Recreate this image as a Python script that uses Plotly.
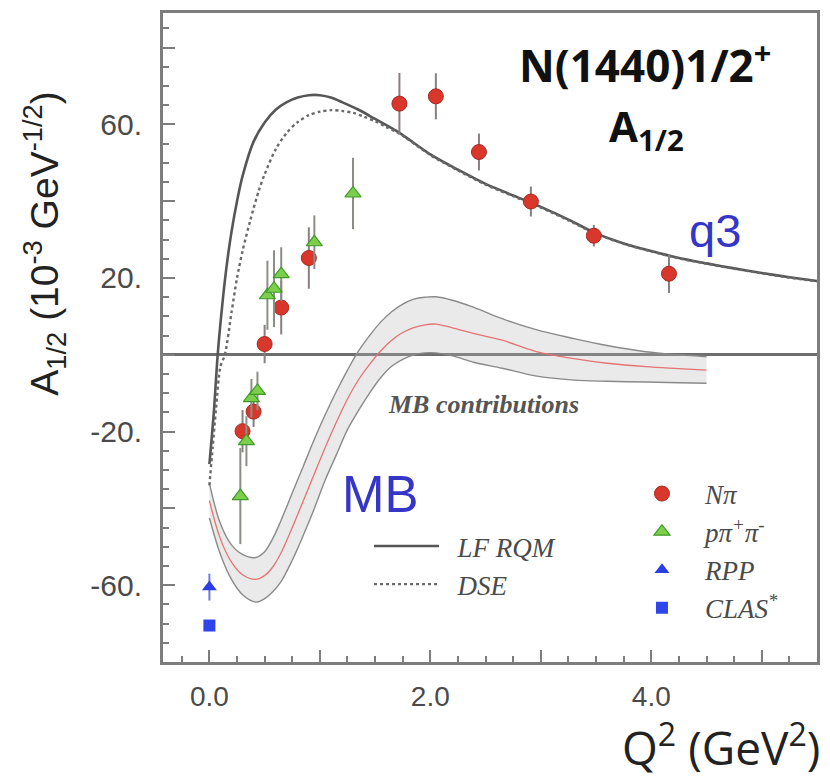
import plotly.graph_objects as go

# ---------------- data ----------------
# N pi (CLAS) : red circles
q2_npi = [0.30, 0.40, 0.50, 0.65, 0.90, 1.72, 2.05, 2.44, 2.91, 3.48, 4.16]
a_npi = [-19.9, -14.8, 2.8, 12.3, 25.2, 65.4, 67.3, 52.8, 39.9, 31.0, 21.1]
err_npi = [5.5, 4.0, 5.0, 7.0, 8.0, 8.0, 6.0, 4.8, 3.9, 2.8, 5.0]

# p pi+ pi- : green triangles
q2_2pi = [0.28, 0.335, 0.38, 0.435, 0.525, 0.585, 0.65, 0.95, 1.30]
a_2pi = [-36.8, -22.5, -11.3, -9.4, 15.5, 17.2, 21.0, 29.3, 42.0]
err_2pi = [12.5, 6.5, 5.0, 5.0, 9.0, 10.0, 7.0, 7.0, 9.3]

# photon point
q2_rpp = [0.0]
a_rpp = [-60.5]
err_rpp = [3.5]
q2_clas = [0.0]
a_clas = [-70.5]

# LF RQM (solid)
lf_q2 = [0, 0.04, 0.075, 0.12, 0.16, 0.2, 0.25, 0.3, 0.4, 0.5, 0.6, 0.7, 0.8, 0.9,
         1.0, 1.1, 1.2, 1.35, 1.5, 1.72, 2.0, 2.25, 2.5, 2.75, 3.0, 3.25, 3.5,
         3.75, 4.0, 4.25, 4.5, 4.75, 5.0, 5.25, 5.5]
lf_a = [-28.5, -15, 0, 14, 24, 32, 40, 46.5, 55.5, 60.5, 63.8, 65.8, 67, 67.6,
        67.6, 67, 65.8, 63.8, 61.4, 57.8, 52.2, 48.2, 44.5, 41.5, 38.5, 35.2, 31.6,
        29, 27, 25.2, 23.8, 22.5, 21.3, 20.2, 19.2]

# DSE (dotted)
dse_q2 = [0, 0.03, 0.06, 0.1, 0.14, 0.2, 0.25, 0.3, 0.37, 0.45, 0.5, 0.6, 0.7, 0.8,
          0.9, 1.0, 1.1, 1.2, 1.3, 1.4, 1.5, 1.6, 1.72, 2.0, 2.25, 2.5, 2.75, 3.0,
          3.25, 3.5, 3.75, 4.0, 4.25, 4.5, 4.75, 5.0, 5.25, 5.5]
dse_a = [-34, -24, -14, -3, 0, 11, 20, 27, 35, 43, 47, 53.5, 57.8, 60.6,
         62.4, 63.3, 63.7, 63.5, 63, 62, 60.8, 59.3, 57.6, 52, 48, 44.3, 41.3, 38.3,
         35, 31.5, 28.9, 26.9, 25.1, 23.7, 22.4, 21.2, 20.1, 19.1]

# MB contributions band
mb_q2 = [0, 0.1, 0.2, 0.3, 0.42, 0.5, 0.58, 0.65, 0.75, 0.85, 0.95, 1.05, 1.15,
         1.25, 1.35, 1.45, 1.55, 1.65, 1.75, 1.85, 1.95, 2.05, 2.2, 2.4, 2.65,
         2.95, 3.3, 3.6, 3.95, 4.25, 4.5]
mb_upper = [-33.5, -44, -49.5, -52, -52.8, -51.3, -47.5, -43, -36, -29, -22, -15.5,
            -9.5, -4, 1, 5, 8.5, 11.2, 13.2, 14.5, 15, 15.1, 14.2, 12.3, 9.4,
            6.6, 4.2, 2.4, 0.8, 0, -0.5]
mb_central = [-38, -48, -54, -57.3, -58.5, -57.5, -55, -51.5, -45, -38, -31, -24,
              -17.5, -11.5, -6.5, -2.5, 1, 3.8, 5.8, 7.1, 7.8, 8, 7, 5.5, 3.8,
              0.9, -1.0, -2.2, -3.1, -3.6, -4.0]
mb_lower = [-42.5, -52, -58.5, -62.5, -64.4, -63.5, -61.5, -59, -53.5, -47, -40,
            -32.5, -26, -19.5, -14.5, -10, -6, -3, -1.2, 0, 0.5, 0.5, -0.3, -2,
            -3.5, -5.5, -6.6, -6.9, -7.1, -7.3, -7.4]

x_range = [-0.42, 5.5]
x_tickvals = [0, 1, 2, 3, 4, 5]
x_ticktext = ["0.0", "", "2.0", "", "4.0", ""]
y_tickvals = [-80, -60, -40, -20, 0, 20, 40, 60, 80]
y_ticktext = ["", "-60.", "", "-20.", "", "20.", "", "60.", ""]

# ---------------- figure ----------------
AX = "#7d7d7d"
NB = "\u00a0\u00a0"
fig = go.Figure()

fig.add_trace(go.Scatter(x=mb_q2, y=mb_upper, mode="lines", showlegend=False,
                         line=dict(color="#8a8a8a", width=1.4, shape="spline"),
                         hoverinfo="skip"))
fig.add_trace(go.Scatter(x=mb_q2, y=mb_lower, mode="lines", showlegend=False,
                         line=dict(color="#8a8a8a", width=1.4, shape="spline"),
                         fill="tonexty", fillcolor="rgba(185,185,185,0.30)",
                         hoverinfo="skip"))
fig.add_trace(go.Scatter(x=mb_q2, y=mb_central, mode="lines", showlegend=False,
                         line=dict(color="#e57373", width=1.3, shape="spline"),
                         hoverinfo="skip"))

fig.add_trace(go.Scatter(x=lf_q2, y=lf_a, mode="lines", name=NB + "<i>LF RQM</i>",
                         legend="legend2",
                         line=dict(color="#565656", width=2.6, shape="spline",
                                   smoothing=0.8)))
fig.add_trace(go.Scatter(x=dse_q2, y=dse_a, mode="lines", name=NB + "<i>DSE</i>",
                         legend="legend2",
                         line=dict(color="#6a6a6a", width=2.4, dash="dot",
                                   shape="spline", smoothing=0.8)))

fig.add_trace(go.Scatter(x=q2_npi, y=a_npi, mode="markers", name="<i>Nπ</i>",
                         error_y=dict(type="data", array=err_npi, color="#8a7f7f",
                                      thickness=2, width=0),
                         marker=dict(symbol="circle", size=15, color="#d9372b",
                                     line=dict(color="#a82a20", width=1))))
fig.add_trace(go.Scatter(x=q2_2pi, y=a_2pi, mode="markers",
                         name="<i>pπ<sup>+</sup>π<sup>-</sup></i>",
                         error_y=dict(type="data", array=err_2pi, color="#8a8f86",
                                      thickness=2, width=0),
                         marker=dict(symbol="triangle-up", size=14, color="#7ccf4a",
                                     line=dict(color="#3f9a2a", width=1.2))))
fig.add_trace(go.Scatter(x=q2_rpp, y=a_rpp, mode="markers", name="<i>RPP</i>",
                         error_y=dict(type="data", array=err_rpp, color="#6f7bd8",
                                      thickness=2, width=0),
                         marker=dict(symbol="triangle-up", size=13, color="#2b3de4")))
# this trace sits on the overlay x-axis (same range) that carries the tick labels
fig.add_trace(go.Scatter(x=q2_clas, y=a_clas, mode="markers", xaxis="x2",
                         name="<i>CLAS<sup>*</sup></i>",
                         marker=dict(symbol="square", size=12, color="#2e45ea")))

# page body has an 8px margin, so the figure is 8px smaller than the window
fig.update_layout(
    width=822, height=775,
    margin=dict(l=155, r=13, t=2, b=121),
    paper_bgcolor="white", plot_bgcolor="white",
    showlegend=True,
    legend=dict(x=0.6972, y=0.2966, xanchor="left", yanchor="top",
                bgcolor="rgba(0,0,0,0)", tracegroupgap=0, traceorder="normal",
                itemwidth=76,
                font=dict(family="Liberation Serif", size=27, color="#4a4a4a")),
    legend2=dict(x=0.3150, y=0.2157, xanchor="left", yanchor="top",
                 bgcolor="rgba(0,0,0,0)", itemwidth=65, traceorder="normal",
                 font=dict(family="Liberation Serif", size=27, color="#4a4a4a")),
    xaxis=dict(range=x_range, showgrid=False, zeroline=False,
               showline=True, mirror=True, linecolor=AX, linewidth=3,
               ticks="inside", ticklen=12, tickwidth=2, tickcolor=AX,
               tickmode="array", tickvals=x_tickvals, showticklabels=False,
               minor=dict(ticks="inside", ticklen=6, tickwidth=1.5, tickcolor=AX,
                          tickmode="linear", tick0=0, dtick=0.25)),
    xaxis2=dict(range=x_range, overlaying="x", anchor="y", side="bottom",
                showgrid=False, zeroline=False, showline=False,
                ticks="outside", ticklen=9, tickcolor="rgba(0,0,0,0)",
                tickmode="array", tickvals=x_tickvals, ticktext=x_ticktext,
                tickfont=dict(family="Liberation Sans", size=28, color="#4a4a4a")),
    yaxis=dict(range=[-80, 89], showgrid=False,
               zeroline=True, zerolinecolor="#6e6e6e", zerolinewidth=2.5,
               showline=True, mirror=True, linecolor=AX, linewidth=3,
               ticks="inside", ticklen=12, tickwidth=2, tickcolor=AX,
               tickmode="array", tickvals=y_tickvals, ticktext=y_ticktext,
               ticklabelstandoff=12,
               tickfont=dict(family="Liberation Sans", size=30, color="#4a4a4a"),
               minor=dict(ticks="inside", ticklen=6, tickwidth=1.5, tickcolor=AX,
                          tickmode="linear", tick0=0, dtick=5)),
)

fig.add_annotation(x=3.94, y=75.9, xref="x", yref="y", showarrow=False,
                   text="N(1440)1/2<sup>+</sup>",
                   font=dict(family="Open Sans", size=44, color="#111", weight="bold"))
fig.add_annotation(x=3.96, y=58.8, xref="x", yref="y", showarrow=False,
                   text="A<sub>1/2</sub>",
                   font=dict(family="Open Sans", size=42, color="#111", weight="bold"))
fig.add_annotation(x=2.48, y=-13, xref="x", yref="y", showarrow=False,
                   text="<b><i>MB contributions</i></b>",
                   font=dict(family="Liberation Serif", size=26, color="#555"))
fig.add_annotation(x=4.58, y=32.4, xref="x", yref="y", showarrow=False,
                   text="q3", font=dict(family="Liberation Sans", size=47, color="#3535c8"))
fig.add_annotation(x=1.55, y=-36.5, xref="x", yref="y", showarrow=False,
                   text="MB", font=dict(family="Liberation Sans", size=51, color="#3535c8"))
fig.add_annotation(x=-0.180, y=0.645, xref="paper", yref="paper", showarrow=False,
                   textangle=-90, xanchor="center", yanchor="middle",
                   text="A<sub>1/2</sub> (10<sup>-3</sup> GeV<sup>-1/2</sup>)",
                   font=dict(family="Liberation Sans", size=39, color="#222"))
fig.add_annotation(x=1.0076, y=-0.1285, xref="paper", yref="paper", showarrow=False,
                   xanchor="right", yanchor="middle",
                   text="Q<sup>2</sup> (GeV<sup>2</sup>)",
                   font=dict(family="Open Sans", size=46, color="#222"))

fig.write_html("out.html")
